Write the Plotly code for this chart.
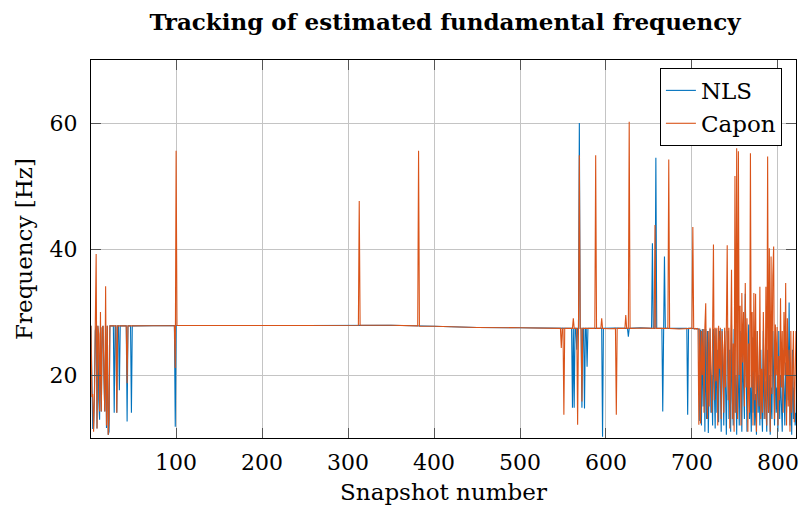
import plotly.graph_objects as go

# ---------------- data ----------------
# early transient, snapshots 1..23
head_snap = list(range(1, 24))
nls_head = [27.8, 16.5, 11.5, 11.5, 16.8, 27.0, 27.8, 11.5, 27.8, 16.0, 12.9, 27.8,
            14.2, 27.5, 27.8, 20.0, 14.2, 27.8, 11.6, 27.8, 10.5, 11.0, 27.8]
capon_head = [27.8, 16.5, 17.0, 11.0, 16.8, 27.0, 39.2, 11.5, 27.8, 26.5, 14.2, 30.0,
              14.2, 27.5, 27.8, 20.0, 14.2, 34.1, 12.0, 27.8, 10.5, 13.0, 27.8]

# steady part, snapshots 24..699 (snapshot, frequency)
nls_mid = [(27, 27.8), (28, 14.0), (29, 27.8), (30, 27.8), (31, 14.0), (32, 27.8), (33, 27.8),
           (34, 17.6), (35, 27.8), (42, 27.8), (43, 12.6), (44, 27.8), (47, 27.8), (48, 14.0),
           (49, 27.8), (98, 27.85), (99, 11.8), (100, 27.85), (101, 27.85), (150, 27.9),
           (200, 27.85), (250, 27.85), (300, 27.9), (350, 27.9), (400, 27.75), (450, 27.55),
           (500, 27.5), (546, 27.45), (560, 27.4), (561, 14.8), (562, 27.4), (563, 14.8),
           (564, 27.4), (565, 27.4), (566, 24.0), (567, 27.4), (568, 27.4), (569, 60.0),
           (570, 27.4), (571, 27.4), (572, 14.8), (573, 27.4), (574, 27.4), (575, 14.7),
           (576, 27.4), (577, 27.4), (578, 21.3), (579, 27.4), (595, 27.4), (596, 10.2),
           (597, 27.4), (610, 27.45), (625, 27.4), (626, 26.1), (627, 27.4), (640, 27.5),
           (653, 27.4), (654, 40.9), (655, 27.4), (657, 27.4), (658, 54.5), (659, 27.4),
           (665, 27.4), (666, 14.2), (667, 27.4), (668, 38.8), (669, 27.4), (680, 27.35),
           (694, 27.4), (695, 13.7), (696, 27.4), (699, 27.4)]
capon_mid = [(27, 27.8), (30, 27.8), (31, 14.0), (32, 27.8), (42, 27.8), (43, 18.7), (44, 27.8),
             (98, 27.85), (99, 21.1), (100, 55.6), (101, 27.85), (150, 27.9), (200, 27.85),
             (250, 27.85), (300, 27.9), (312, 27.9), (313, 47.6), (314, 27.9), (350, 27.9),
             (381, 27.8), (382, 55.6), (383, 27.75), (400, 27.75), (450, 27.55), (500, 27.5),
             (546, 27.45), (547, 27.4), (548, 24.3), (549, 27.4), (550, 27.4), (551, 13.7),
             (552, 27.4), (561, 27.4), (562, 29.0), (563, 27.4), (566, 27.4), (567, 12.1),
             (568, 27.4), (569, 54.9), (570, 27.4), (571, 27.4), (572, 15.8), (573, 27.4),
             (587, 27.4), (588, 54.9), (589, 27.4), (594, 27.4), (595, 29.0), (596, 27.4),
             (605, 27.35), (611, 27.4), (612, 13.7), (613, 27.4), (622, 27.4), (623, 29.5),
             (624, 27.4), (626, 27.4), (627, 60.2), (628, 27.4), (645, 27.45), (656, 27.4),
             (657, 43.8), (658, 27.4), (672, 27.4), (673, 54.2), (674, 27.4), (685, 27.3),
             (699, 27.4)]

# noisy tail, snapshots 700..821
tail_snap = list(range(700, 822))
nls_tail = [27.4, 27.4, 27.3, 27.3, 27.4, 27.3, 27.4, 27.3, 27.3, 12.7,
            27.2, 12.0, 27.3, 15.0, 27.3, 11.0, 27.3, 13.0, 27.0, 10.8,
            22.0, 27.3, 14.0, 20.0, 12.0, 27.3, 18.0, 11.5, 27.3, 14.0,
            24.0, 12.5, 27.0, 16.0, 11.0, 27.3, 19.0, 12.0, 27.0, 15.0,
            10.5, 22.0, 27.0, 13.0, 24.0, 11.0, 28.0, 16.0, 12.0, 27.3,
            14.0, 20.0, 10.5, 25.0, 14.0, 12.0, 27.0, 17.0, 11.0, 24.0,
            19.0, 13.0, 32.9, 15.0, 11.0, 22.0, 28.0, 13.0, 18.0, 11.0,
            26.0, 14.0, 22.0, 12.0, 17.0, 10.5, 27.0, 14.0, 20.0, 12.0,
            24.0, 15.0, 11.0, 27.0, 13.0, 19.0, 16.0, 11.0, 24.0, 14.0,
            20.0, 10.5, 18.0, 13.0, 27.0, 20.8, 12.0, 24.0, 14.0, 18.0,
            11.0, 27.0, 13.0, 20.0, 15.0, 11.0, 24.0, 17.0, 12.0, 22.0,
            14.0, 27.0, 16.0, 31.5, 12.0, 20.0, 10.5, 24.0, 13.0, 18.0,
            12.0, 14.0]
capon_tail = [27.4, 43.5, 27.4, 27.3, 27.4, 27.3, 27.4, 27.3, 12.1, 27.4,
              12.3, 27.0, 20.0, 27.3, 14.0, 27.5, 31.4, 18.0, 13.0, 27.0,
              15.0, 27.5, 22.0, 14.0, 27.0, 40.7, 16.0, 27.5, 19.0, 27.5,
              12.0, 27.8, 21.0, 27.5, 13.0, 27.0, 24.0, 14.0, 27.5, 18.0,
              27.5, 40.6, 16.0, 27.5, 11.5, 28.0, 36.7, 13.0, 25.0, 11.0,
              51.6, 14.0, 56.0, 13.0, 55.5, 20.0, 31.0, 12.0, 33.0, 22.0,
              30.0, 15.0, 34.6, 18.0, 29.0, 11.0, 25.0, 14.0, 55.2, 18.0,
              30.0, 12.0, 33.0, 16.0, 32.9, 11.0, 27.0, 19.0, 15.0, 34.0,
              13.0, 21.0, 14.0, 30.0, 16.0, 13.0, 34.0, 12.0, 54.7, 14.0,
              40.1, 11.0, 38.8, 17.0, 35.7, 40.4, 13.0, 28.0, 20.0, 27.6,
              12.0, 23.0, 16.0, 32.2, 18.0, 27.0, 14.0, 30.0, 20.0, 34.6,
              12.0, 29.0, 15.0, 24.0, 11.0, 27.0, 14.0, 22.0, 27.0, 12.5,
              24.5, 27.0]

x_ticks = [100, 200, 300, 400, 500, 600, 700, 800]
y_ticks = [20, 40, 60]

# ---------------- assemble series ----------------
nls_x = head_snap + [p[0] for p in nls_mid] + tail_snap
nls_y = nls_head + [p[1] for p in nls_mid] + nls_tail
capon_x = head_snap + [p[0] for p in capon_mid] + tail_snap
capon_y = capon_head + [p[1] for p in capon_mid] + capon_tail

FONT = "DejaVu Serif"

fig = go.Figure()
fig.add_trace(go.Scatter(x=nls_x, y=nls_y, mode="lines", name="NLS",
                         line=dict(color="#0072BD", width=1.1)))
fig.add_trace(go.Scatter(x=capon_x, y=capon_y, mode="lines", name="Capon",
                         line=dict(color="#D95319", width=1.1)))

axis_common = dict(
    showline=True, linecolor="black", linewidth=1.3, mirror="ticks",
    ticks="inside", ticklen=10, tickcolor="#555555", tickwidth=1,
    showgrid=True, gridcolor="#c4c4c4", gridwidth=1, zeroline=False,
    tickfont=dict(family=FONT, size=22, color="black"),
)

fig.update_layout(
    width=804, height=510,
    margin=dict(l=91, r=5, t=60, b=72),
    paper_bgcolor="white", plot_bgcolor="white",
    title=dict(text="<b>Tracking of estimated fundamental frequency</b>",
               x=(91 + 799) / 2 / 804, xanchor="center",
               y=1 - 22 / 510, yanchor="middle", yref="container",
               font=dict(family=FONT, size=23, color="black")),
    xaxis=dict(range=[1, 821], tickvals=x_ticks, ticklabelstandoff=4,
               title=dict(text="Snapshot number", standoff=10,
                          font=dict(family=FONT, size=23, color="black")),
               **axis_common),
    yaxis=dict(range=[10, 70], tickvals=y_ticks, ticklabelstandoff=8,
               title=dict(text="Frequency [Hz]", standoff=10,
                          font=dict(family=FONT, size=23, color="black")),
               **axis_common),
    legend=dict(x=0.98, xanchor="right", y=0.979, yanchor="top",
                bgcolor="white", bordercolor="black", borderwidth=1,
                font=dict(family=FONT, size=23, color="black"),
                tracegroupgap=0),
    showlegend=True,
)

fig.write_html("out.html")
